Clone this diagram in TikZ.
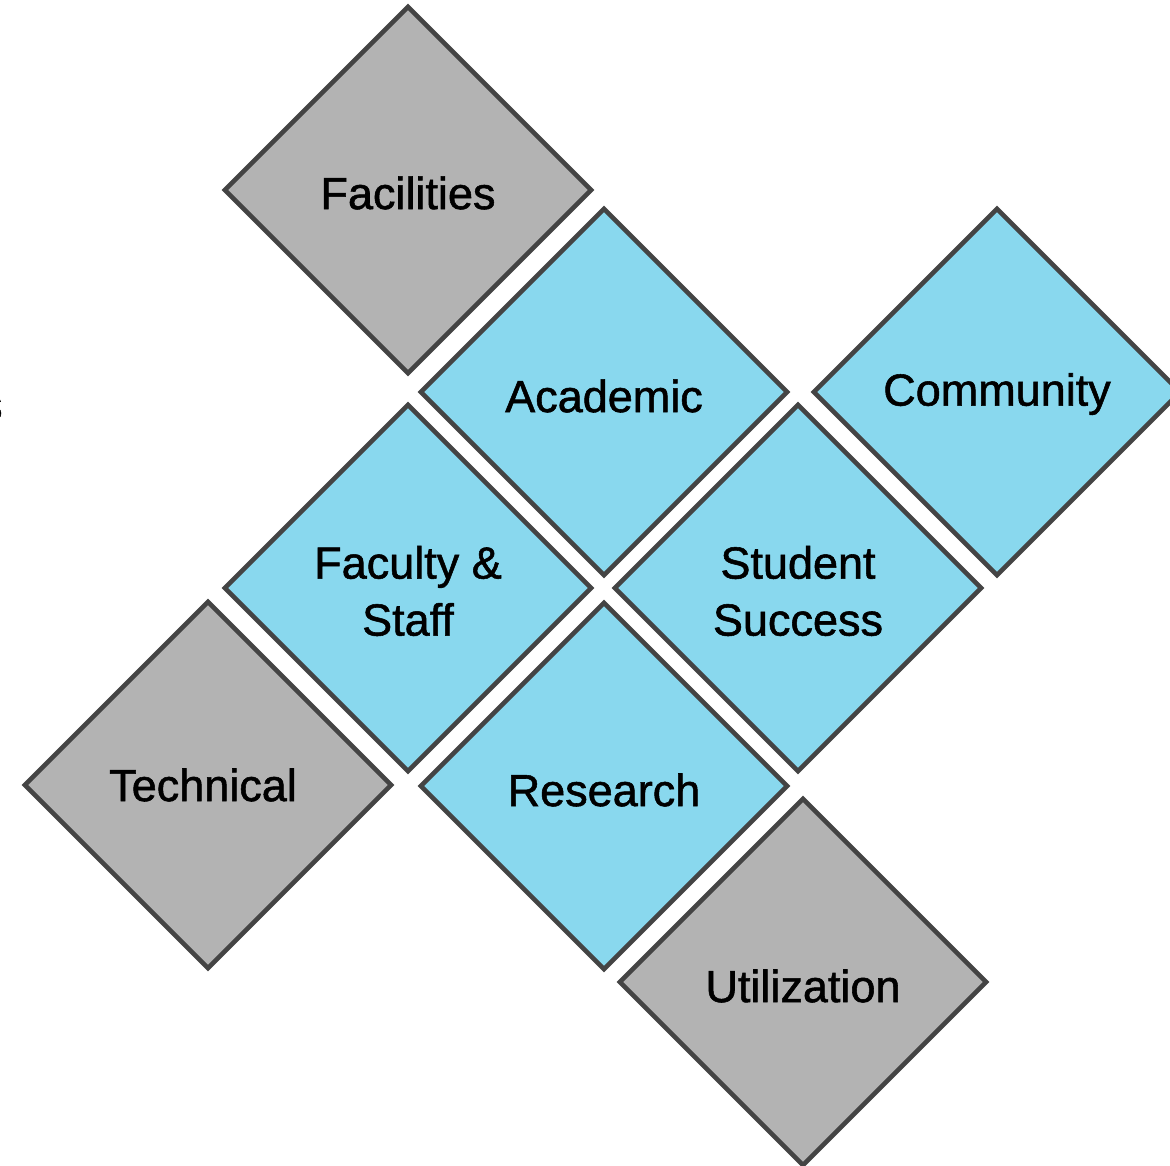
\documentclass[tikz,border=0pt]{standalone}
\usepackage{fontspec}
\setmainfont{Liberation Sans}
\newfontfamily\lblfont{Liberation Sans}[UprightFeatures={FakeBold=1.2}]
\usetikzlibrary{shapes.geometric}
\definecolor{tileblue}{HTML}{89D8EE}
\definecolor{tilegray}{HTML}{B3B3B3}
\definecolor{tileedge}{HTML}{444444}
\tikzset{
  tile/.style={diamond, aspect=1, inner sep=0pt, minimum width=368pt*0.5, minimum height=368pt*0.5,
    draw=tileedge, line width=2.3pt},
  bluetile/.style={tile, fill=tileblue},
  graytile/.style={tile, fill=tilegray},
  lbl/.style={inner sep=0pt, align=center, font=\lblfont\fontsize{22.5pt}{28.5pt}\selectfont}
}
\begin{document}
\begin{tikzpicture}[x=0.5pt,y=-0.5pt]
\useasboundingbox (0,0) rectangle (1170,1165);
\node[graytile] (facilities) at (408,190) {};
\node[bluetile] (academic) at (604,392) {};
\node[bluetile] (community) at (997,392) {};
\node[bluetile] (faculty) at (408,588) {};
\node[bluetile] (student) at (798,588) {};
\node[graytile] (technical) at (208,785) {};
\node[bluetile] (research) at (604,786) {};
\node[graytile] (utilization) at (803,982) {};
\node[lbl] (tfac) at (408,193) {Facilities};
\node[lbl] (taca) at (604,396) {Academic};
\node[lbl] (tcom) at (997,394) {Community};
\node[lbl] (tfst) at (408,591) {Faculty \&\\Staff};
\node[lbl] (tstu) at (798,591) {Student\\Success};
\node[lbl] (ttec) at (203,785) {Technical};
\node[lbl] (tres) at (604,790) {Research};
\node[lbl] (tuti) at (803,986) {Utilization};
\node[anchor=base east, inner sep=0pt, font=\lblfont\fontsize{22.5pt}{28.5pt}\selectfont] (frag) at (3,420) {s};
\end{tikzpicture}
\end{document}
